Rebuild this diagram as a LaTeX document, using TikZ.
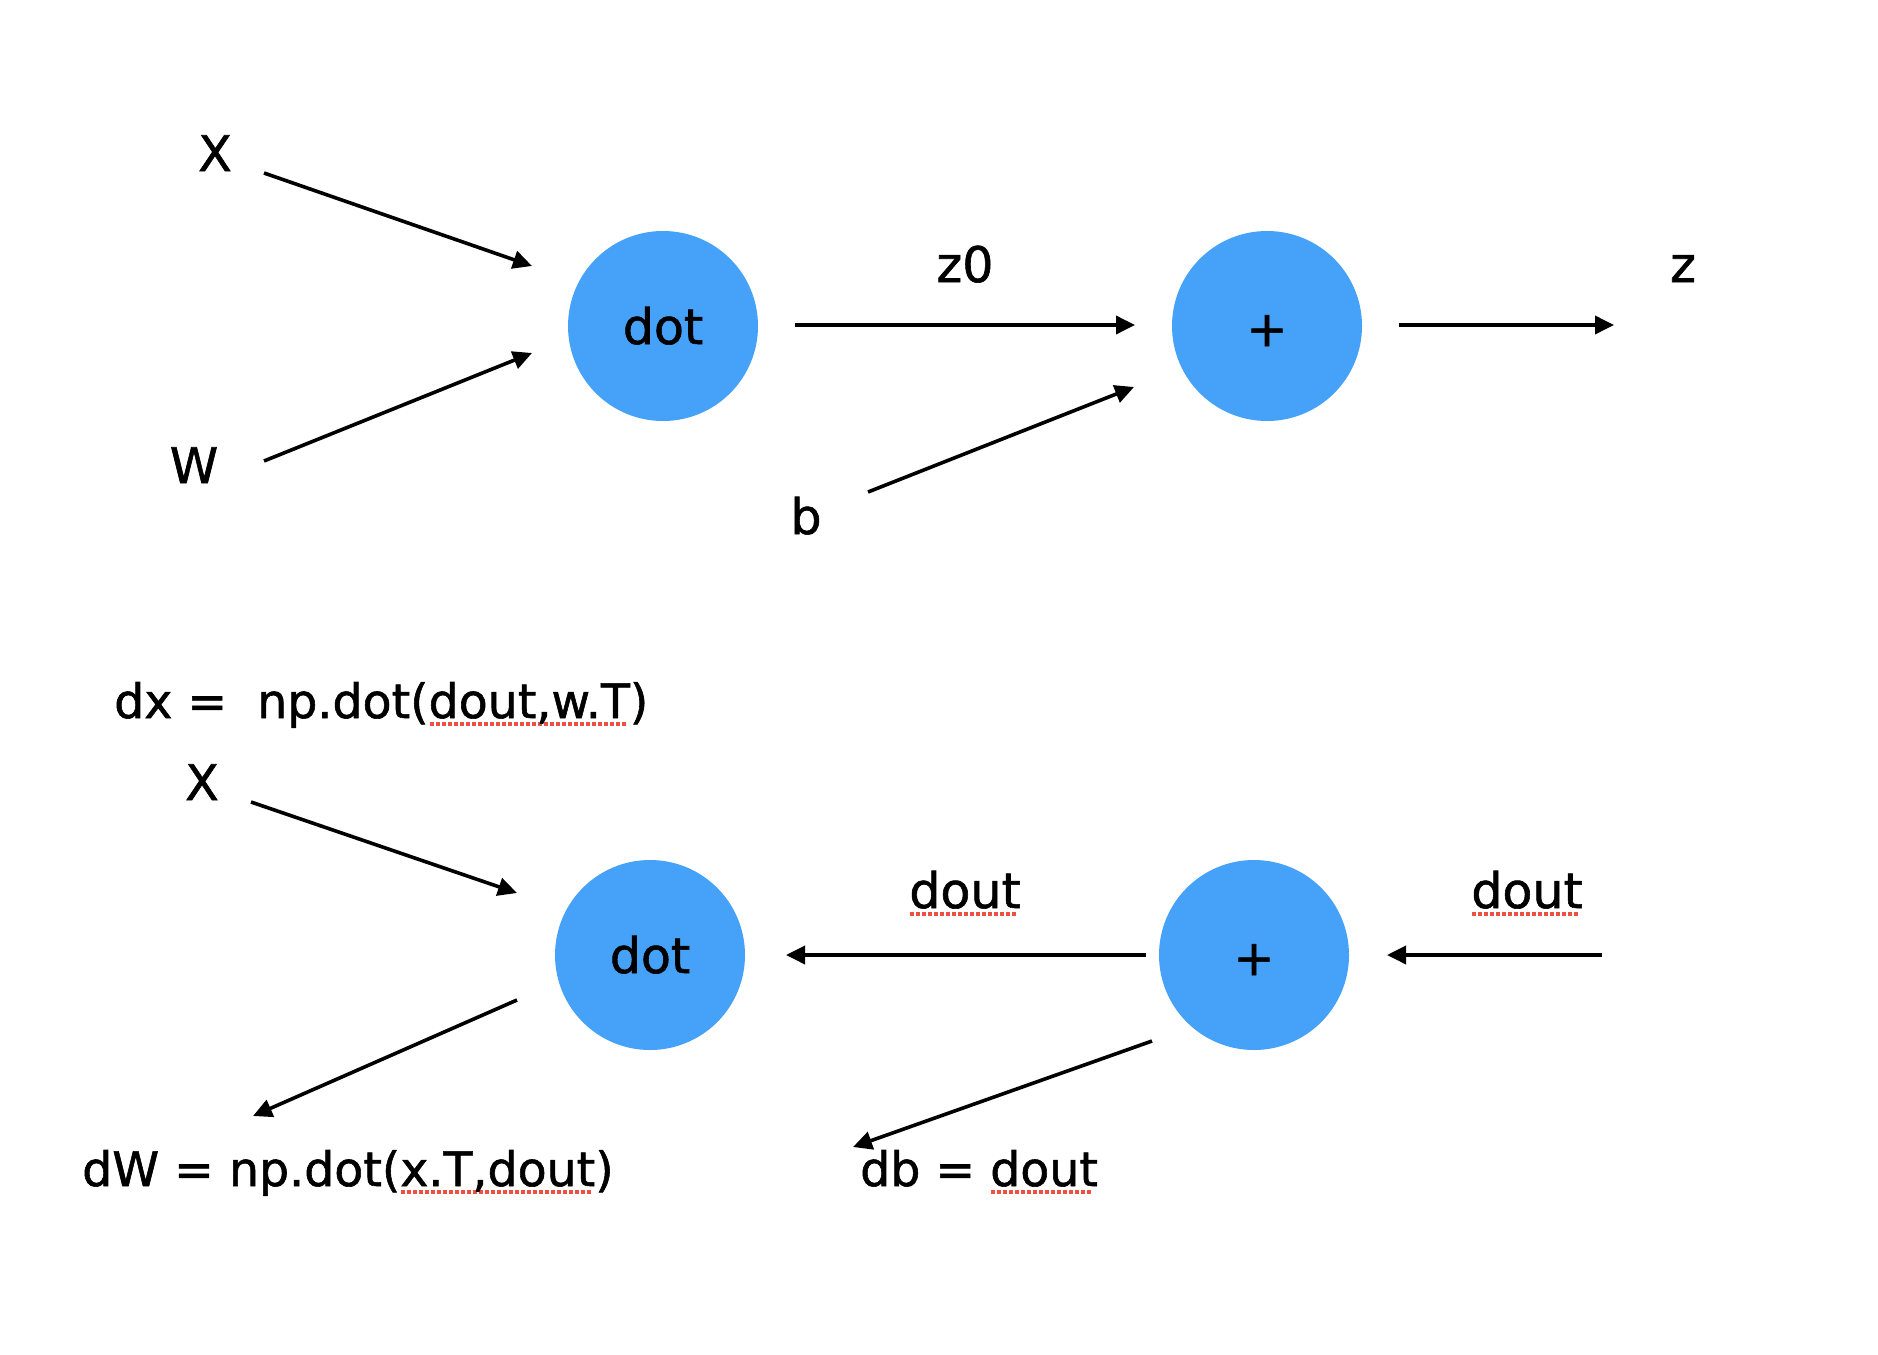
\documentclass[tikz,border=0pt]{standalone}
\usepackage{fontspec}
\setmainfont{DejaVu Sans}[FakeBold=1.2]
\usetikzlibrary{arrows.meta}
\definecolor{nodeblue}{RGB}{70,161,248}
\definecolor{sqred}{RGB}{236,80,64}
\newsavebox\sqbox
\newcommand\sqg[1]{\sbox\sqbox{#1}\rlap{\raisebox{-7.5pt}{\hbox to \wd\sqbox{\color{sqred}\leaders\hbox to 6pt{\hss\vrule width 4pt height 3.5pt\hss}\hfill}}}\usebox\sqbox}
\tikzset{
  opnode/.style={circle, fill=nodeblue, minimum size=190pt, inner sep=0pt},
  lbl/.style={inner sep=0pt, anchor=base, font=\fontsize{49}{58}\selectfont},
  eq/.style={inner sep=0pt, anchor=base west, font=\fontsize{47.4}{56}\selectfont},
  conn/.style={line width=3.6pt, -{Triangle[length=19pt,width=18pt]}},
}
\begin{document}
\begin{tikzpicture}[x=1pt,y=-1pt]
\useasboundingbox (0,0) rectangle (1878,1354);
% ---- forward pass ----
\node[opnode] (dotA) at (663,326) {};
\node[lbl] (dotAt) at (663,344) {dot};
\node[opnode] (plusA) at (1267,326) {};
\node[lbl] (plusAt) at (1267,346) {+};
\node[lbl] (xA) at (215,171) {X};
\node[lbl] (wA) at (194,483) {W};
\node[lbl] (z0) at (965,282) {z0};
\node[lbl] (zA) at (1683,282) {z};
\node[lbl] (bA) at (806,534) {b};
\coordinate (xAs) at (264,173);  \coordinate (xAe) at (532,266);
\coordinate (wAs) at (264,461);  \coordinate (wAe) at (532,353);
\coordinate (dAs) at (795,325);  \coordinate (dAe) at (1135,325);
\coordinate (bAs) at (868,492);  \coordinate (bAe) at (1134,387);
\coordinate (pAs) at (1399,325); \coordinate (pAe) at (1614,325);
\draw[conn] (xAs) -- (xAe);
\draw[conn] (wAs) -- (wAe);
\draw[conn] (dAs) -- (dAe);
\draw[conn] (bAs) -- (bAe);
\draw[conn] (pAs) -- (pAe);
% ---- backward pass ----
\node[opnode] (dotB) at (650,955) {};
\node[lbl] (dotBt) at (650,973) {dot};
\node[opnode] (plusB) at (1254,955) {};
\node[lbl] (plusBt) at (1254,975) {+};
\node[eq] (dx) at (114,718) {dx =\ \ np.dot(\sqg{dout,w.T})};
\node[lbl] (xB) at (202,800) {X};
\node[lbl] (doutL) at (965,908) {\sqg{dout}};
\node[lbl] (doutR) at (1527,908) {\sqg{dout}};
\node[eq] (dW) at (82,1186) {dW = np.dot(\sqg{x.T,dout})};
\node[eq] (db) at (860,1186) {db = \sqg{dout}};
\coordinate (xBs) at (251,802);   \coordinate (xBe) at (517,893);
\coordinate (dBs) at (517,1000);  \coordinate (dBe) at (253,1116);
\coordinate (pBs) at (1146,955);  \coordinate (pBe) at (786,955);
\coordinate (rBs) at (1602,955);  \coordinate (rBe) at (1387,955);
\coordinate (qBs) at (1152,1041); \coordinate (qBe) at (853,1147);
\draw[conn] (xBs) -- (xBe);
\draw[conn] (dBs) -- (dBe);
\draw[conn] (pBs) -- (pBe);
\draw[conn] (rBs) -- (rBe);
\draw[conn] (qBs) -- (qBe);
\end{tikzpicture}
\end{document}
